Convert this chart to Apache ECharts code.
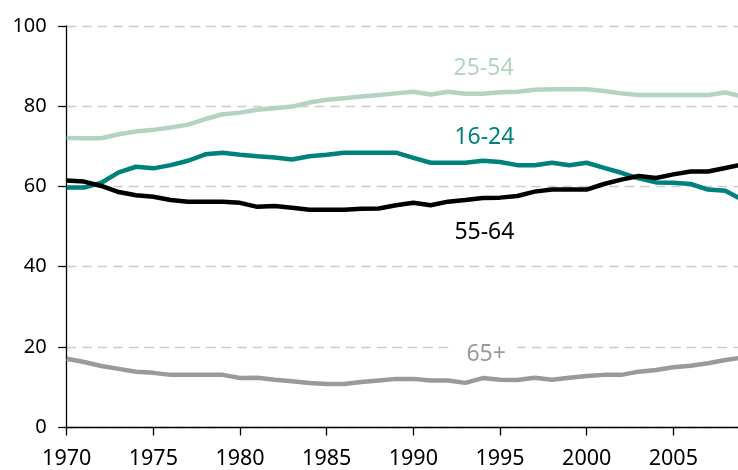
<!DOCTYPE html>
<html>
<head>
<meta charset="utf-8">
<script src="https://cdn.jsdelivr.net/npm/echarts@6/dist/echarts.min.js"></script>
<style>
html,body{margin:0;padding:0;background:#fff;overflow:hidden;width:738px;height:470px;}
#chart{width:761px;height:470px;}
</style>
</head>
<body>
<div id="chart"></div>
<script>
var years = [1970,1971,1972,1973,1974,1975,1976,1977,1978,1979,1980,1981,1982,1983,1984,1985,1986,1987,1988,1989,1990,1991,1992,1993,1994,1995,1996,1997,1998,1999,2000,2001,2002,2003,2004,2005,2006,2007,2008,2009];
var age2554 = [72.1,72.0,72.0,73.0,73.7,74.1,74.7,75.4,76.8,78.0,78.4,79.1,79.5,79.9,80.9,81.6,82.0,82.4,82.8,83.2,83.6,82.9,83.6,83.1,83.1,83.5,83.6,84.1,84.2,84.2,84.2,83.8,83.2,82.8,82.8,82.8,82.8,82.8,83.4,82.4];
var age1624 = [59.7,59.7,60.9,63.5,64.9,64.5,65.3,66.4,68.0,68.4,67.9,67.5,67.2,66.7,67.5,67.9,68.4,68.4,68.4,68.4,67.1,65.9,65.9,65.9,66.4,66.1,65.3,65.3,65.9,65.3,65.9,64.6,63.4,62.0,61.0,60.9,60.6,59.2,58.9,56.6];
var age5564 = [61.5,61.2,60.1,58.6,57.8,57.4,56.6,56.2,56.2,56.2,55.9,54.9,55.1,54.7,54.2,54.2,54.2,54.4,54.5,55.3,55.9,55.3,56.2,56.6,57.1,57.2,57.6,58.7,59.2,59.2,59.2,60.6,61.7,62.6,62.1,63.0,63.7,63.7,64.6,65.5];
var age65 = [17.0,16.2,15.2,14.5,13.8,13.5,13.0,13.0,13.0,13.0,12.2,12.3,11.8,11.4,11.0,10.7,10.7,11.2,11.6,12.0,12.0,11.6,11.6,11.0,12.2,11.8,11.7,12.3,11.8,12.3,12.7,13.0,13.0,13.8,14.2,14.9,15.3,15.9,16.7,17.3];

var seriesNames = ['25-54','16-24','55-64','65+'];
var seriesData = [age2554, age1624, age5564, age65];
var seriesColors = ['#b3d4c0','#00827c','#000000','#9a9a9a'];
// label anchor positions in data space [year, value]
var labelAnchors = [[1994.05, 89.5],[1994.1, 72.1],[1994.1, 48.4],[1994.2, 18.0]];

var font = '"Noto Sans", "Open Sans", sans-serif';

function pairs(arr){ return years.map(function(y,i){ return [y, arr[i]]; }); }

var series = seriesNames.map(function(name, i){
  var lbl = {
    show: true, position: 'inside', formatter: name,
    color: seriesColors[i], fontFamily: font, fontSize: 23,
    align: 'center', verticalAlign: 'middle'
  };
  if (name === '65+') { lbl.backgroundColor = '#ffffff'; lbl.padding = [2, 12]; }
  return {
    name: name, type: 'line', data: pairs(seriesData[i]),
    showSymbol: false, symbol: 'none', silent: true,
    lineStyle: { color: seriesColors[i], width: 4.5, join: 'round' },
    z: 3,
    markPoint: {
      silent: true, symbol: 'rect', symbolSize: 0,
      label: lbl,
      data: [{ coord: labelAnchors[i], value: name }],
      z: 10
    }
  };
});

var chart = echarts.init(document.getElementById('chart'), null, {renderer: 'canvas'});
chart.setOption({
  animation: false,
  backgroundColor: '#ffffff',
  grid: { left: 66.7, top: 26, bottom: 41.7, right: 1, containLabel: false },
  xAxis: {
    type: 'value', min: 1970, max: 2010, interval: 5,
    axisLine: { show: true, onZero: false, lineStyle: { color: '#000', width: 1.3 } },
    axisTick: { show: true, length: 8.5, lineStyle: { color: '#000', width: 1.3 } },
    axisLabel: { color: '#000', fontFamily: font, fontSize: 21.5, margin: 21, showMaxLabel: false,
      formatter: function(v){ return String(v); } },
    splitLine: { show: false }
  },
  yAxis: {
    type: 'value', min: 0, max: 100, interval: 20,
    axisLine: { show: true, lineStyle: { color: '#000', width: 1.3 } },
    axisTick: { show: true, length: 8.5, lineStyle: { color: '#000', width: 1.3 } },
    axisLabel: { color: '#000', fontFamily: font, fontSize: 20, margin: 20 },
    splitLine: { show: true, lineStyle: { color: '#cccccc', width: 1.3, type: [9.5, 6] } }
  },
  series: series
});
</script>
</body>
</html>
